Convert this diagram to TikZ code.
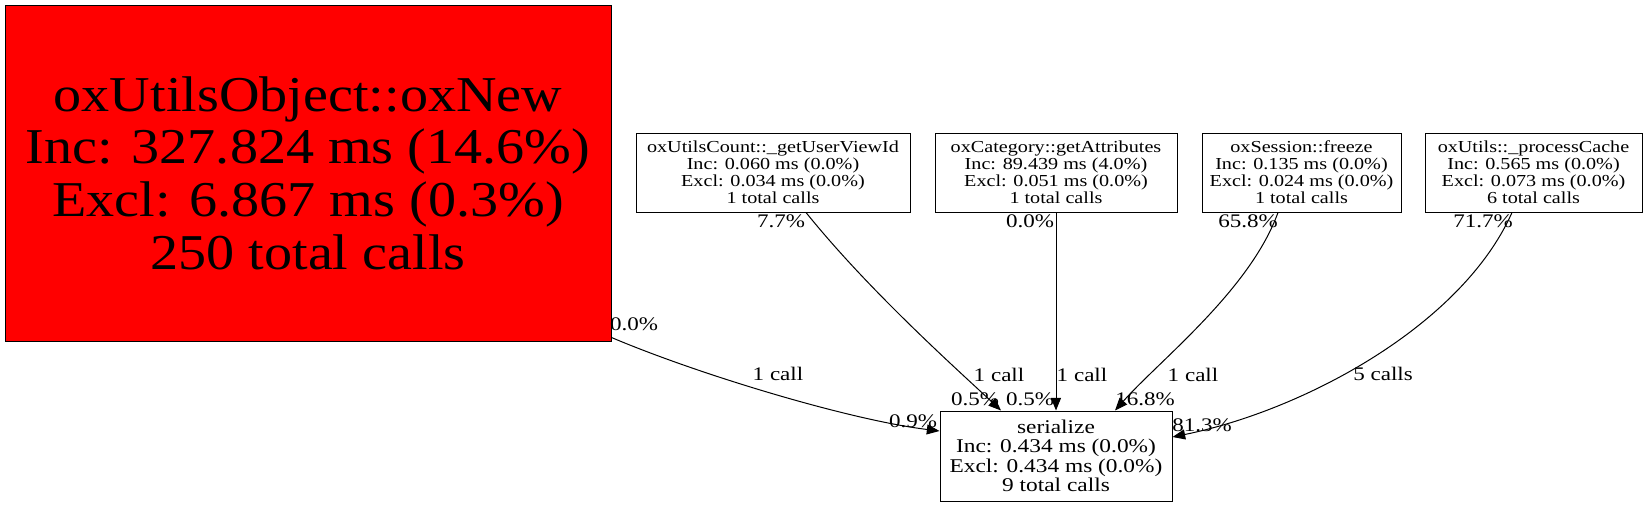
\documentclass[tikz,border=0pt]{standalone}
\usepackage{fontspec}
\setmainfont{Liberation Serif}
\newfontfamily\widefont[FakeStretch=1.2]{Liberation Serif}
\newfontfamily\bigfont[FakeStretch=1.12]{Liberation Serif}
\usetikzlibrary{calc, arrows.meta}
\tikzset{>={Triangle[length=9.5pt,width=7.5pt]}}
\tikzset{
  fn/.style={draw=black, line width=0.75pt, inner sep=0pt, align=center, minimum height=59.25pt},
  fnsmall/.style={fn, font=\widefont\fontsize{12.6}{12.75}\selectfont},
  pct/.style={inner sep=0pt, font=\widefont\fontsize{14.4}{14.4}\selectfont},
  call/.style={->, line width=0.75pt}
}

\begin{document}
\begin{tikzpicture}[x=0.75pt, y=-0.75pt]
\useasboundingbox (0,0) rectangle (1647,507);
\node[fn, fill=red, minimum width=454.5pt, minimum height=252pt, font=\bigfont\fontsize{37.6}{39.5}\selectfont] (oxNew) at (308,173) {oxUtilsObject::oxNew\\Inc: 327.824 ms (14.6\%)\\Excl: 6.867 ms (0.3\%)\\250 total calls};
\node[fnsmall, minimum width=205.5pt] (getUserViewId) at (773,172.5) {oxUtilsCount::\_getUserViewId\\Inc: 0.060 ms (0.0\%)\\Excl: 0.034 ms (0.0\%)\\1 total calls};
\node[fnsmall, minimum width=181.5pt] (getAttributes) at (1056,172.5) {oxCategory::getAttributes\\Inc: 89.439 ms (4.0\%)\\Excl: 0.051 ms (0.0\%)\\1 total calls};
\node[fnsmall, minimum width=149.25pt] (freeze) at (1301.5,172.5) {oxSession::freeze\\Inc: 0.135 ms (0.0\%)\\Excl: 0.024 ms (0.0\%)\\1 total calls};
\node[fnsmall, minimum width=162.75pt] (processCache) at (1533.5,172.5) {oxUtils::\_processCache\\Inc: 0.565 ms (0.0\%)\\Excl: 0.073 ms (0.0\%)\\6 total calls};
\node[fn, minimum width=174pt, minimum height=67.5pt, font=\widefont\fontsize{14.6}{14.6}\selectfont] (serialize) at (1056,456) {serialize\\Inc: 0.434 ms (0.0\%)\\Excl: 0.434 ms (0.0\%)\\9 total calls};
\draw[call] ($(oxNew.south east)+(0,-4)$) .. controls (700,375) and (850,420) .. ($(serialize.west)+(0,-25)$);
\draw[call] ($(getUserViewId.south)+(33,0)$) .. controls (870,292) and (960,372) .. ($(serialize.north)+(-55,0)$);
\draw[call] (getAttributes.south) -- (serialize.north);
\draw[call] ($(freeze.south)+(-23.5,0)$) .. controls (1250,290) and (1160,360) .. ($(serialize.north)+(59,0)$);
\draw[call] ($(processCache.south)+(-21.5,0)$) .. controls (1462,325) and (1305,410) .. ($(serialize.east)+(0,-19)$);
\node[pct] (tailNew) at (634,324) {0.0\%};
\node[pct] (callNew) at (778,374) {1 call};
\node[pct] (headNew) at (913,421) {0.9\%};
\node[pct] (tailCount) at (781,221) {7.7\%};
\node[pct] (callCount) at (999,375) {1 call};
\node[pct] (headCount) at (975,399) {0.5\%};
\node[pct] (tailCat) at (1030,221) {0.0\%};
\node[pct] (callCat) at (1082,375) {1 call};
\node[pct] (headCat) at (1030,399) {0.5\%};
\node[pct] (tailSess) at (1248,221) {65.8\%};
\node[pct] (callSess) at (1193,375) {1 call};
\node[pct] (headSess) at (1145,399) {16.8\%};
\node[pct] (tailCache) at (1483,221) {71.7\%};
\node[pct] (callCache) at (1383,374) {5 calls};
\node[pct] (headCache) at (1202,425) {81.3\%};
\end{tikzpicture}
\end{document}
